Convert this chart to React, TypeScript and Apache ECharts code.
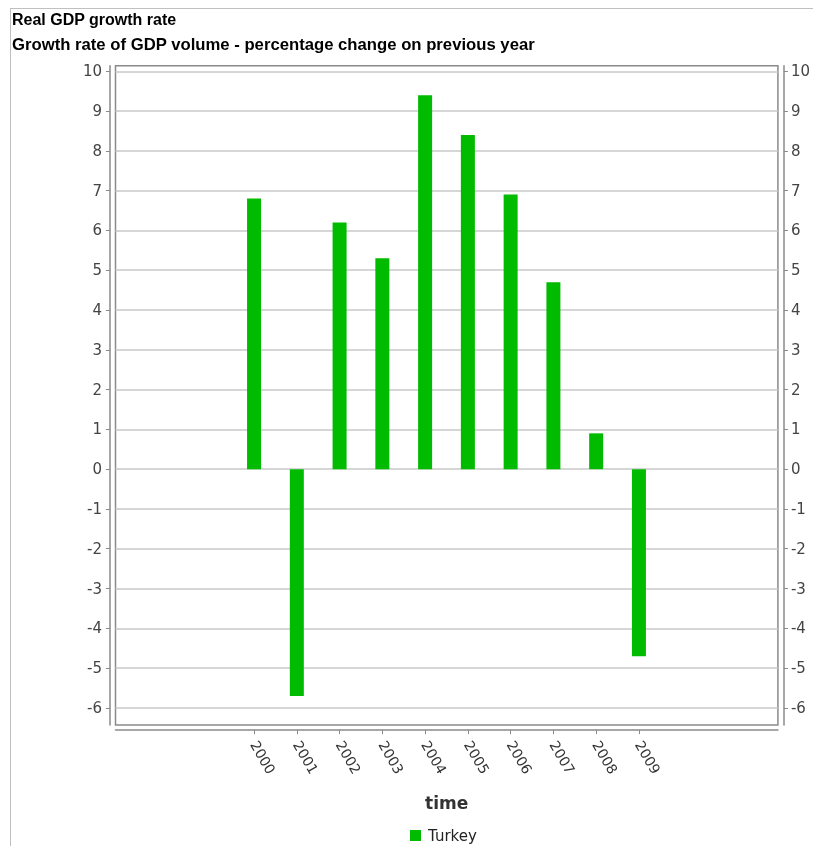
import React, { useEffect, useRef } from "react";
import * as echarts from "echarts";

const years = [2000, 2001, 2002, 2003, 2004, 2005, 2006, 2007, 2008, 2009];
const turkey = [6.8, -5.7, 6.2, 5.3, 9.4, 8.4, 6.9, 4.7, 0.9, -4.7];
const yTicks = [-6, -5, -4, -3, -2, -1, 0, 1, 2, 3, 4, 5, 6, 7, 8, 9, 10];

const FONT = "'Liberation Sans', Arial, sans-serif";
const DFONT = "'DejaVu Sans', Verdana, sans-serif";

export default function App() {
  const ref = useRef<HTMLDivElement>(null);
  useEffect(() => {
    if (!ref.current) return;
    const chart = echarts.init(ref.current, undefined, { renderer: "svg" });
    const yAxisBase = {
      type: "value" as const,
      min: -6.43,
      max: 10.14,
      axisLine: { show: true, lineStyle: { color: "#8a8a8a", width: 1.5 } },
      axisTick: { show: true, length: 4, customValues: yTicks, lineStyle: { color: "#8a8a8a" } },
      axisLabel: { customValues: yTicks, color: "#444", fontSize: 15, fontFamily: DFONT },
    };
    chart.setOption({
      animation: false,
      textStyle: { fontFamily: FONT },
      title: [
        {
          text: "Real GDP growth rate",
          left: 1,
          top: 2,
          padding: 0,
          textStyle: { fontSize: 16, fontWeight: "bold", color: "#000", fontFamily: FONT },
        },
        {
          text: "Growth rate of GDP volume - percentage change on previous year",
          left: 1,
          top: 27,
          padding: 0,
          textStyle: { fontSize: 16.7, fontWeight: "bold", color: "#000", fontFamily: FONT },
        },
      ],
      grid: {
        left: 104.5,
        right: 35,
        top: 56.7,
        bottom: 121,
        show: true,
        borderColor: "#8a8a8a",
        borderWidth: 1.5,
        containLabel: false,
      },
      legend: {
        left: 399,
        top: 819,
        itemWidth: 11,
        itemHeight: 11,
        icon: "rect",
        itemGap: 8,
        padding: 0,
        textStyle: { fontSize: 15, color: "#222", fontFamily: DFONT, padding: [0, 0, 0, 2] },
        data: ["Turkey"],
      },
      xAxis: {
        type: "value",
        min: 1996.76,
        max: 2012.25,
        offset: 5,
        name: "time",
        nameLocation: "middle",
        nameGap: 64,
        nameTextStyle: { fontSize: 17, fontWeight: "bold", color: "#333", fontFamily: DFONT },
        axisLine: { show: true, onZero: false, lineStyle: { color: "#8a8a8a", width: 1.5 } },
        axisTick: { show: true, length: 4, customValues: years, lineStyle: { color: "#8a8a8a" } },
        axisLabel: {
          customValues: years,
          rotate: -60,
          margin: 12,
          color: "#333",
          fontSize: 14,
          fontFamily: DFONT,
          formatter: (v: number) => String(v),
        },
        splitLine: { show: false },
      },
      yAxis: [
        {
          ...yAxisBase,
          position: "left",
          offset: 5.5,
          axisLabel: { ...yAxisBase.axisLabel, margin: 8 },
          splitLine: { show: true, lineStyle: { color: "#c8c8c8", width: 1.5 } },
        },
        {
          ...yAxisBase,
          position: "right",
          offset: 6,
          axisLabel: { ...yAxisBase.axisLabel, margin: 7 },
          splitLine: { show: false },
        },
      ],
      series: [
        {
          name: "Turkey",
          type: "bar",
          barWidth: 14,
          itemStyle: { color: "#00bb00" },
          data: years.map((y, i) => [y, turkey[i]]),
        },
      ],
    });
    return () => chart.dispose();
  }, []);
  return (
    <div
      style={{
        position: "fixed",
        left: 10,
        top: 8,
        borderTop: "1px solid #c0c0c0",
        borderLeft: "1px solid #c0c0c0",
        width: 802,
        height: 837,
      }}
    >
      <div ref={ref} style={{ width: 802, height: 837 }} />
    </div>
  );
}
